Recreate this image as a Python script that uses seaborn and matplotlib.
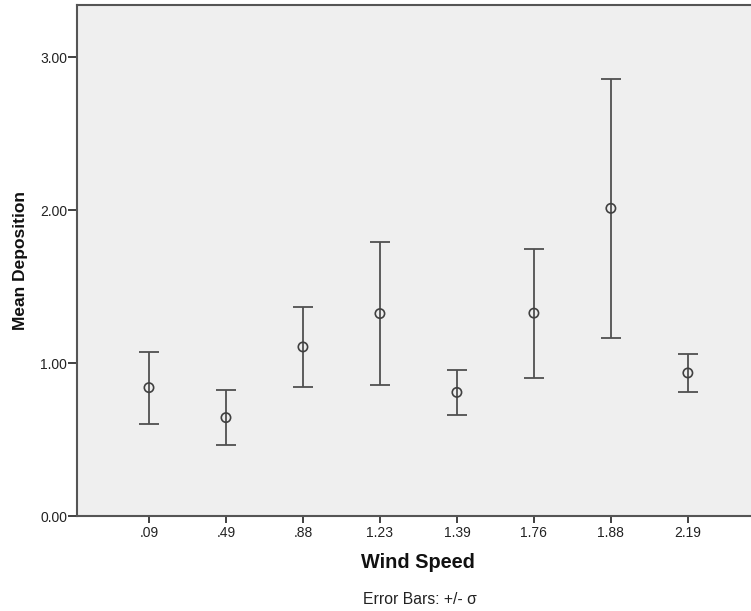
import matplotlib
matplotlib.use("Agg")
import matplotlib.pyplot as plt
import seaborn as sns
import pandas as pd

wind_speed = [".09", ".49", ".88", "1.23", "1.39", "1.76", "1.88", "2.19"]
mean_deposition = [0.839, 0.643, 1.105, 1.323, 0.808, 1.326, 2.011, 0.935]
sd_deposition = [0.236, 0.179, 0.262, 0.467, 0.148, 0.422, 0.847, 0.125]
y_ticks = [0, 1, 2, 3]

df = pd.DataFrame({"Wind Speed": wind_speed, "Mean Deposition": mean_deposition, "sd": sd_deposition})

sns.set_style("ticks")
plt.rcParams['font.family'] = ['Liberation Sans', 'DejaVu Sans']

fig = plt.figure(figsize=(7.51, 6.11), dpi=100)
ax = fig.add_axes([77/751, 95/611, 1 - 77/751, (516-5)/611])
ax.set_facecolor("#EFEFEF")

ax.errorbar(df["Wind Speed"], df["Mean Deposition"], yerr=df["sd"], fmt="none",
            ecolor="#505050", elinewidth=1.3, capsize=7, capthick=1.3, zorder=2)
sns.scatterplot(data=df, x="Wind Speed", y="Mean Deposition", ax=ax, marker="o", s=45,
                facecolors="none", edgecolor="#404040", linewidth=1.2, zorder=3)

ax.set_xlim(-0.935, 7.82)
ax.set_ylim(0, 3.34)
ax.set_yticks(y_ticks)
ax.set_yticklabels([f"{v:.2f}" for v in y_ticks])
ax.tick_params(axis="both", labelsize=10, colors="#333333", width=1.3, direction="out")
ax.tick_params(axis="y", length=6.5, pad=0.5)
ax.tick_params(axis="x", length=5, pad=2)
ax.tick_params(axis="both", labelcolor="#222222")

for side in ["left", "bottom", "top"]:
    ax.spines[side].set_color("#555555")
    ax.spines[side].set_linewidth(1.5)
ax.spines["right"].set_visible(False)

ax.set_xlabel("")
ax.set_ylabel("")
fig.text(21/751, 1 - 261/611, "Mean Deposition", rotation=90, ha="center", va="center",
         fontsize=12.5, fontweight="bold", color="#111111")
fig.text(418/751, 1 - 563/611, "Wind Speed", ha="center", va="center",
         fontsize=14.3, fontweight="bold", color="#111111")
fig.text(420/751, 1 - 600/611, "Error Bars: +/- σ", ha="center", va="center",
         fontsize=11.3, color="#222222")

fig.savefig("out.png", dpi=100, facecolor="white")
